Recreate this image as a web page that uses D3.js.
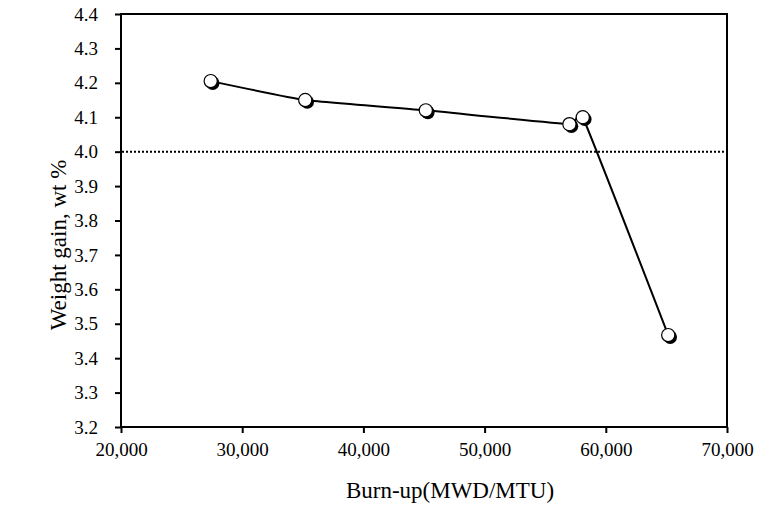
<!DOCTYPE html>
<html><head><meta charset="utf-8">
<script src="https://cdn.jsdelivr.net/npm/d3@7"></script>
<style>body{margin:0;background:#fff}svg{display:block}text{font-family:"Liberation Serif","Times New Roman",serif;fill:#000}</style>
</head><body>
<script>
const burnup = [27400, 35200, 45150, 57000, 58100, 65150];
const weightGain = [4.205, 4.15, 4.12, 4.08, 4.10, 3.467];
const xTicks = [20000, 30000, 40000, 50000, 60000, 70000];
const yTicks = [3.2, 3.3, 3.4, 3.5, 3.6, 3.7, 3.8, 3.9, 4.0, 4.1, 4.2, 4.3, 4.4];
const limitValue = [4.0];
const xTitle = "Burn-up(MWD/MTU)";
const yTitle = "Weight gain, wt %";

const W = 781, H = 517;
const L = 121, R = 727, T = 14, B = 427;
const svg = d3.select("body").append("svg").attr("width", W).attr("height", H);
const x = d3.scaleLinear().domain([20000, 70000]).range([L, R]);
const y = d3.scaleLinear().domain([3.2, 4.4]).range([B, T]);
const fmt = d3.format(",");

// frame
svg.append("rect").attr("x", L).attr("y", T).attr("width", R - L).attr("height", B - T)
  .attr("fill", "none").attr("stroke", "#000").attr("stroke-width", 2);

// axes
const xAxis = svg.append("g").attr("transform", `translate(0,${B})`)
  .call(d3.axisBottom(x).tickValues(xTicks).tickFormat(fmt).tickSize(6).tickPadding(10));
const yAxis = svg.append("g").attr("transform", `translate(${L},0)`)
  .call(d3.axisLeft(y).tickValues(yTicks).tickFormat(d3.format(".1f")).tickSize(6).tickPadding(17));
[xAxis, yAxis].forEach(a => {
  a.select(".domain").remove();
  a.selectAll(".tick line").attr("stroke", "#000").attr("stroke-width", 2);
  a.selectAll(".tick text").attr("font-size", 19).attr("fill", "#000")
    .attr("font-family", "Liberation Serif, Times New Roman, serif");
});

// limit line
svg.selectAll(".limit").data(limitValue).enter().append("line")
  .attr("x1", L + 1).attr("x2", R - 1).attr("y1", d => y(d)).attr("y2", d => y(d))
  .attr("stroke", "#000").attr("stroke-width", 2).attr("stroke-dasharray", "2,2");

// line
const pts = burnup.map((b, i) => [b, weightGain[i]]);
svg.append("path").datum(pts)
  .attr("d", d3.line().x(d => x(d[0])).y(d => y(d[1])).curve(d3.curveCardinal.tension(0.6)))
  .attr("fill", "none").attr("stroke", "#000").attr("stroke-width", 2);

// markers (shadow + white circle)
svg.selectAll(".shadow").data(pts).enter().append("circle")
  .attr("cx", d => x(d[0]) + 2).attr("cy", d => y(d[1]) + 2).attr("r", 6.8).attr("fill", "#000");
svg.selectAll(".mk").data(pts).enter().append("circle")
  .attr("cx", d => x(d[0])).attr("cy", d => y(d[1])).attr("r", 6.6)
  .attr("fill", "#fff").attr("stroke", "#000").attr("stroke-width", 1.2);

// titles
svg.append("text").attr("x", 450).attr("y", 498).attr("text-anchor", "middle")
  .attr("font-size", 23).text(xTitle);
svg.append("text").attr("transform", "translate(66,245) rotate(-90)").attr("text-anchor", "middle")
  .attr("font-size", 23).text(yTitle);
</script>
</body></html>
